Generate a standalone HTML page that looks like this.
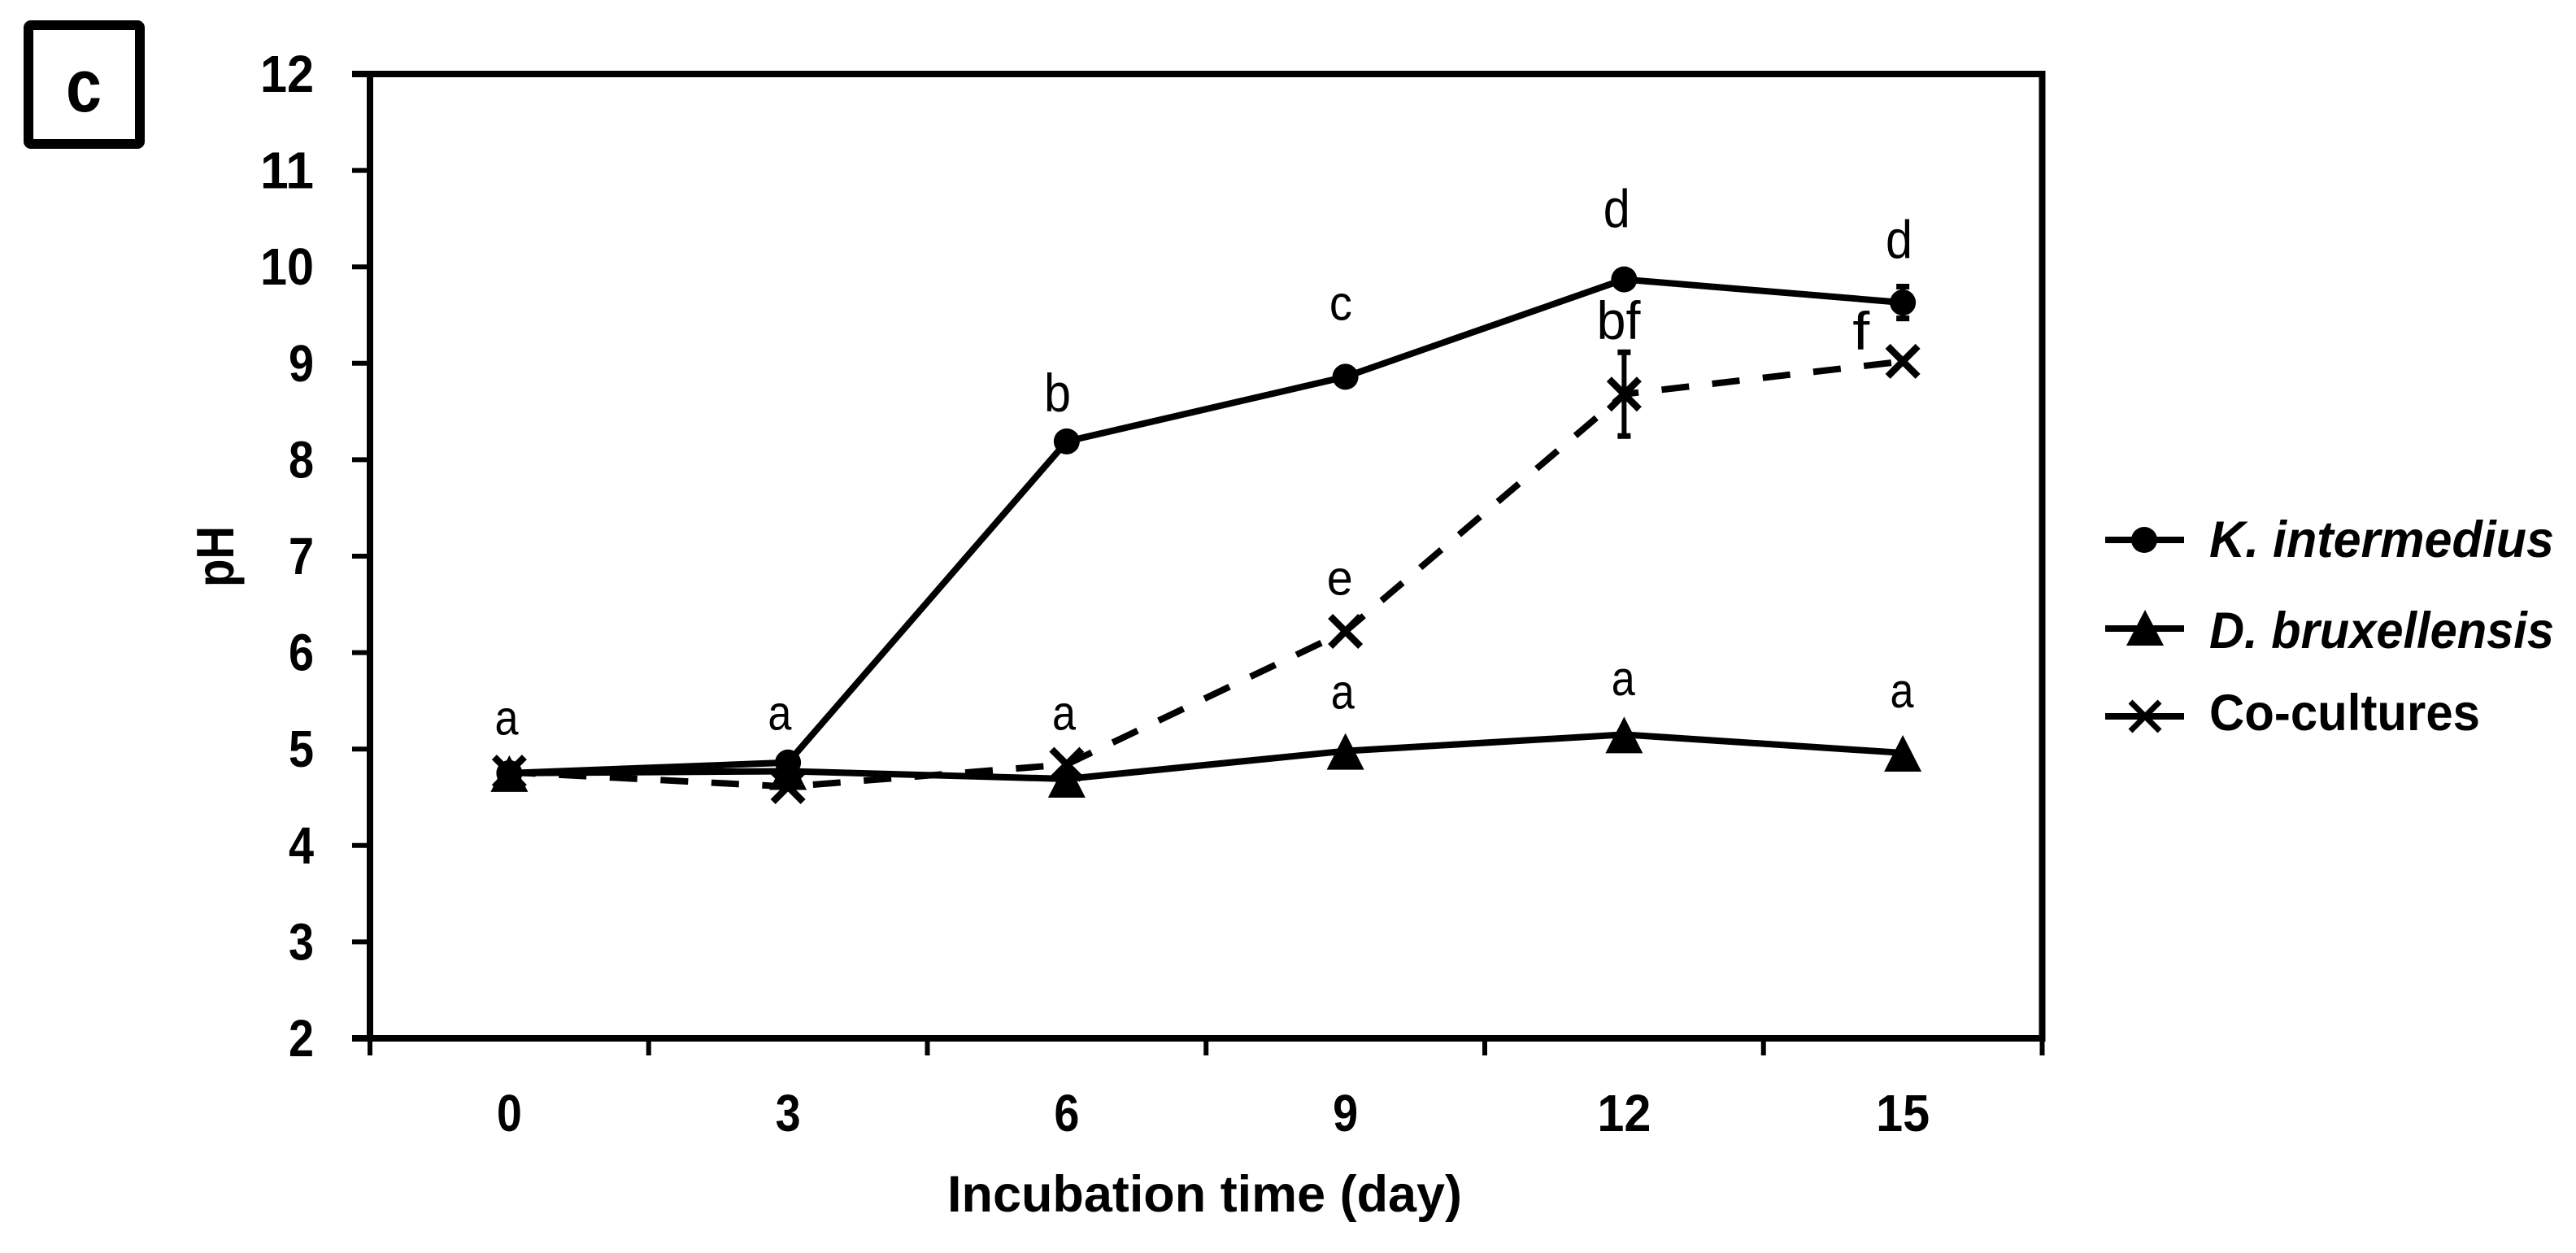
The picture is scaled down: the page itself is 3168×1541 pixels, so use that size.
<!DOCTYPE html>
<html>
<head>
<meta charset="utf-8">
<style>
html,body{margin:0;padding:0;background:#fff;width:3168px;height:1541px;overflow:hidden}
svg{display:block}
text{font-family:"Liberation Sans",sans-serif;fill:#000}
</style>
</head>
<body>
<svg id="chart" width="3168" height="1541" viewBox="0 0 3168 1541" xmlns="http://www.w3.org/2000/svg">
  <rect x="0" y="0" width="3168" height="1541" fill="#fff"/>
  <rect x="35" y="31" width="137" height="146" rx="3" fill="none" stroke="#000" stroke-width="12"/>
  <text x="103" y="137" font-size="92" font-weight="700" text-anchor="middle" textLength="44" lengthAdjust="spacingAndGlyphs">c</text>
  <text x="1165" y="1490" font-size="63" font-weight="700" textLength="633" lengthAdjust="spacingAndGlyphs">Incubation time (day)</text>
  <text transform="translate(287 684.5) rotate(-90)" font-size="65" font-weight="700" text-anchor="middle" textLength="75" lengthAdjust="spacingAndGlyphs">pH</text>

  <g>
    <g>
      <line x1="2589" y1="664" x2="2686" y2="664" stroke="#000" stroke-width="8"/>
      <circle cx="2637" cy="664" r="16" fill="#000"/>
      <text x="2717" y="685" font-size="63" font-weight="700" font-style="italic" textLength="424" lengthAdjust="spacingAndGlyphs">K. intermedius</text>
    </g>
    <g>
      <line x1="2589" y1="773" x2="2686" y2="773" stroke="#000" stroke-width="8"/>
      <polygon points="2638,750 2661,794 2615,794" fill="#000"/>
      <text x="2717" y="797" font-size="63" font-weight="700" font-style="italic" textLength="424" lengthAdjust="spacingAndGlyphs">D. bruxellensis</text>
    </g>
    <g>
      <line x1="2589" y1="881" x2="2686" y2="881" stroke="#000" stroke-width="8"/>
      <line x1="2620" y1="863" x2="2656" y2="899" stroke="#000" stroke-width="7"/>
      <line x1="2656" y1="863" x2="2620" y2="899" stroke="#000" stroke-width="7"/>
      <text x="2717" y="898" font-size="63" font-weight="700" textLength="333" lengthAdjust="spacingAndGlyphs">Co-cultures</text>
    </g>
  </g>
</svg>
<script>
// ---- chart data ----
const categories = [0, 3, 6, 9, 12, 15];
const yTickValues = [2, 3, 4, 5, 6, 7, 8, 9, 10, 11, 12];
const kIntermedius = [4.75, 4.86, 8.19, 8.86, 9.87, 9.63];
const kIntermediusErr = [0, 0, 0.03, 0.03, 0.03, 0.19];
const dBruxellensis = [4.75, 4.77, 4.69, 4.98, 5.15, 4.96];
const coCultures = [4.76, 4.61, 4.84, 6.22, 8.68, 9.02];
const coCulturesErr = [0, 0, 0, 0, 0.46, 0];
const letterText = ['a', 'a', 'a', 'a', 'a', 'a', 'b', 'c', 'd', 'd', 'e', 'bf', 'f'];
const letterDay = [-0.03, 2.91, 5.97, 8.97, 11.99, 14.99, 5.9, 8.95, 11.92, 14.96, 8.94, 11.94, 14.55];
const letterHeight = [5.15, 5.2, 5.2, 5.42, 5.56, 5.43, 8.5, 9.45, 10.41, 10.09, 6.6, 9.25, 9.14];

const NS = 'http://www.w3.org/2000/svg';
const svg = document.getElementById('chart');

// axis functions
const plotLeft = 455, plotRight = 2511.5, plotTop = 91, plotBottom = 1277;
function xScale(day) { return plotLeft + (day + 1.5) / 18 * (plotRight - plotLeft); }
function yScale(v) { return plotTop + (12 - v) / 10 * (plotBottom - plotTop); }

function make(tag, props) {
  const el = document.createElementNS(NS, tag);
  for (const k in props) el.setAttribute(k, props[k]);
  return el;
}

// frame
const frame = make('rect', { x: plotLeft, y: plotTop, width: plotRight - plotLeft, height: plotBottom - plotTop, fill: 'none', stroke: '#000', 'stroke-width': 8 });


svg.appendChild(frame);

// y ticks + labels
yTickValues.forEach(function (v) {
  const t = make('line', { x1: 433, x2: plotLeft, y1: yScale(v), y2: yScale(v), stroke: '#000', 'stroke-width': v === 2 || v === 12 ? 8 : 6 });
  
  
  svg.appendChild(t);
  const w = String(v).length > 1 ? 66 : 31;
  const l = make('text', { x: 386, y: yScale(v) + 22, 'font-size': 64, 'font-weight': 700, 'text-anchor': 'end', textLength: w, lengthAdjust: 'spacingAndGlyphs' });
  l.textContent = v;
  
  
  svg.appendChild(l);
});

// x ticks (between categories) + labels
for (let i = 0; i <= categories.length; i++) {
  const xt = plotLeft + i * (plotRight - plotLeft) / categories.length;
  const t = make('line', { x1: xt, x2: xt, y1: plotBottom, y2: 1298, stroke: '#000', 'stroke-width': 6 });
  
  
  svg.appendChild(t);
}
categories.forEach(function (c) {
  const w = String(c).length > 1 ? 66 : 31;
  const l = make('text', { x: xScale(c), y: 1391, 'font-size': 64, 'font-weight': 700, 'text-anchor': 'middle', textLength: w, lengthAdjust: 'spacingAndGlyphs' });
  l.textContent = c;
  
  
  svg.appendChild(l);
});

function linePoints(values) {
  return values.map(function (v, i) { return xScale(categories[i]) + ',' + yScale(v); }).join(' ');
}

function errorBar(day, value, err) {
  const g = make('g', { stroke: '#000' });
  const x = xScale(day);
  const y1 = yScale(value + err), y2 = yScale(value - err);
  g.appendChild(make('line', { x1: x, x2: x, y1: y1, y2: y2, 'stroke-width': 6 }));
  g.appendChild(make('line', { x1: x - 8, x2: x + 8, y1: y1 + 3, y2: y1 + 3, 'stroke-width': 7 }));
  g.appendChild(make('line', { x1: x - 8, x2: x + 8, y1: y2 - 3, y2: y2 - 3, 'stroke-width': 7 }));
  return g;
}

// co-cultures series (dashed)
const coLine = make('polyline', { points: linePoints(coCultures), fill: 'none', stroke: '#000', 'stroke-width': 8, 'stroke-dasharray': '34 28.6', 'stroke-dashoffset': 1.6 });


svg.appendChild(coLine);
coCultures.forEach(function (v, i) {
  if (coCulturesErr[i] > 0.05) {
    const eb = errorBar(categories[i], v, coCulturesErr[i]);
    
    
    svg.appendChild(eb);
  }
  const cx = xScale(categories[i]), cy = yScale(v), r = 18.5;
  const m = make('path', { d: 'M' + (cx - r) + ' ' + (cy - r) + 'L' + (cx + r) + ' ' + (cy + r) + 'M' + (cx + r) + ' ' + (cy - r) + 'L' + (cx - r) + ' ' + (cy + r), stroke: '#000', 'stroke-width': 8.5, fill: 'none' });
  
  
  svg.appendChild(m);
});

// D. bruxellensis series
const dLine = make('polyline', { points: linePoints(dBruxellensis), fill: 'none', stroke: '#000', 'stroke-width': 8 });


svg.appendChild(dLine);
dBruxellensis.forEach(function (v, i) {
  const cx = xScale(categories[i]), cy = yScale(v);
  const m = make('polygon', { points: cx + ',' + (cy - 22) + ' ' + (cx + 23) + ',' + (cy + 23) + ' ' + (cx - 23) + ',' + (cy + 23), fill: '#000' });
  
  
  svg.appendChild(m);
});

// K. intermedius series
const kLine = make('polyline', { points: linePoints(kIntermedius), fill: 'none', stroke: '#000', 'stroke-width': 8 });


svg.appendChild(kLine);
kIntermedius.forEach(function (v, i) {
  if (kIntermediusErr[i] > 0.05) {
    const eb = errorBar(categories[i], v, kIntermediusErr[i]);
    
    
    svg.appendChild(eb);
  }
  const m = make('circle', { cx: xScale(categories[i]), cy: yScale(v), r: 16, fill: '#000' });
  
  
  svg.appendChild(m);
});

// significance letters
letterText.forEach(function (s, i) {
  const short = s === 'a' || s === 'c' || s === 'e';
  const w = s === 'bf' ? 54 : s === 'f' ? 21 : s === 'a' ? 29 : s === 'e' ? 32 : s === 'c' ? 28 : 33;
  const l = make('text', { x: xScale(letterDay[i]), y: yScale(letterHeight[i]), 'font-size': short ? 60 : 66, 'text-anchor': 'middle', textLength: w, lengthAdjust: 'spacingAndGlyphs' });
  l.textContent = s;
  
  
  svg.appendChild(l);
});
</script>
</body>
</html>
